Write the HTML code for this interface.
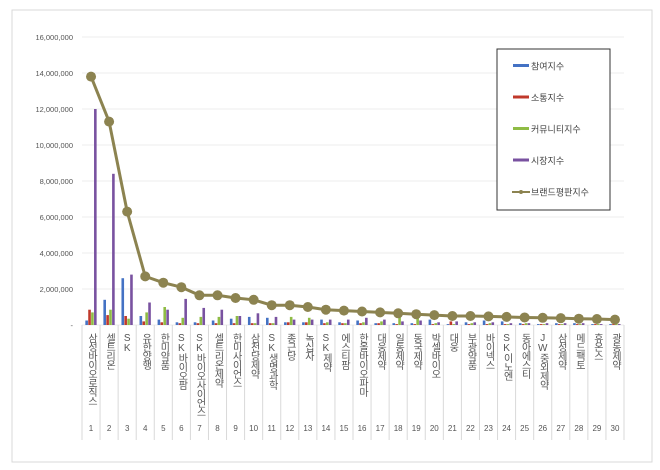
<!DOCTYPE html>
<html><head><meta charset="utf-8">
<style>
body{margin:0;background:#fff;font-family:"Liberation Sans","Noto Sans CJK KR",sans-serif;}
#wrap{position:relative;width:660px;height:470px;overflow:hidden;}
</style></head>
<body>
<div id="wrap">
<svg id="chart" width="660" height="470" xmlns="http://www.w3.org/2000/svg"></svg>
</div>
<script>
const categories=["삼성바이오로직스","셀트리온","SK","유한양행","한미약품","SK바이오팜","SK바이오사이언스","셀트리온제약","한미사이언스","삼천당제약","SK생명과학","종근당","녹십자","SK제약","에스티팜","한올바이오파마","대웅제약","일동제약","동국제약","박셀바이오","대웅","부광약품","바이넥스","SK이노엔","동아에스티","JW중외제약","삼성제약","메드팩토","휴온스","광동제약"];
const participation=[0.25,1.4,2.6,0.5,0.3,0.15,0.15,0.25,0.35,0.45,0.4,0.15,0.15,0.3,0.15,0.25,0.1,0.1,0.1,0.3,0.05,0.15,0.25,0.2,0.1,0.05,0.1,0.1,0.05,0.05].map(v=>v*1e6);
const communication=[0.85,0.55,0.5,0.2,0.15,0.1,0.1,0.1,0.1,0.1,0.1,0.15,0.15,0.1,0.1,0.1,0.1,0.05,0.05,0.05,0.2,0.05,0.05,0.05,0.05,0.05,0.05,0.05,0.05,0.05].map(v=>v*1e6);
const community=[0.7,0.85,0.35,0.7,1.0,0.4,0.45,0.45,0.5,0.1,0.1,0.45,0.4,0.15,0.1,0.15,0.2,0.45,0.45,0.1,0.05,0.1,0.1,0.05,0.1,0.05,0.05,0.05,0.05,0.05].map(v=>v*1e6);
const market=[12,8.4,2.8,1.25,0.85,1.45,0.95,0.85,0.5,0.65,0.45,0.3,0.3,0.3,0.3,0.4,0.3,0.2,0.25,0.15,0.2,0.15,0.15,0.1,0.1,0.1,0.1,0.1,0.05,0.05].map(v=>v*1e6);
const brandIndex=[13.8,11.3,6.3,2.7,2.35,2.1,1.65,1.65,1.5,1.4,1.1,1.1,1.0,0.85,0.8,0.75,0.7,0.65,0.6,0.55,0.5,0.5,0.48,0.45,0.42,0.4,0.38,0.35,0.33,0.3].map(v=>v*1e6);
const yTicks=[0,2e6,4e6,6e6,8e6,10e6,12e6,14e6,16e6];
const seriesNames=["참여지수","소통지수","커뮤니티지수","시장지수","브랜드평판지수"];

const svg=document.getElementById('chart');
const NS="http://www.w3.org/2000/svg";
function mk(tag,attrs,parent){const e=document.createElementNS(NS,tag);for(const k in attrs)e.setAttribute(k,attrs[k]);(parent||svg).appendChild(e);return e;}
const L=82,R=624,T=37,B=325;
const yS=v=>B-(v/16e6)*(B-T);
const cw=(R-L)/categories.length;
const xC=i=>L+cw*(i+0.5);

let fr=mk('rect',{x:12,y:10,width:640,height:452,fill:'none',stroke:'#d9d9d9'});



yTicks.forEach(t=>{
  const g=mk('line',{x1:L,x2:R,y1:yS(t),y2:yS(t),stroke:'#ececec'});
  
  
  const tx=mk('text',{x:73,y:yS(t)+3,'text-anchor':'end','font-size':'7.5',fill:'#555'});
  tx.textContent=t===0?'-':t.toLocaleString('en-US');
  
  
});

// category axis
for(let i=0;i<=categories.length;i++){
  const l=mk('line',{x1:L+cw*i,x2:L+cw*i,y1:B,y2:440,stroke:'#d9d9d9'});
  
  
}
categories.forEach((c,i)=>{
  const t=mk('text',{x:xC(i),y:333,'font-size':'10',fill:'#555','writing-mode':'tb','glyph-orientation-vertical':'0',style:'writing-mode:vertical-rl;text-orientation:upright;letter-spacing:-1px','text-anchor':'start'});
  t.textContent=c;
  
  
  const n=mk('text',{x:xC(i),y:431,'font-size':'8','text-anchor':'middle',fill:'#555'});
  n.textContent=String(i+1);
  
  
});

const series=[participation,communication,community,market];
const colors=['#4472c4','#c0392b','#8fbc45','#7952a0'];
const bw=2.6;
series.forEach((s,si)=>{
  s.forEach((v,i)=>{
    const x=xC(i)-2*bw-0.5+si*(bw+0.3);
    const r=mk('rect',{x:x,y:yS(v),width:bw,height:B-yS(v),fill:colors[si]});
    
    
  });
});

const pts=brandIndex.map((v,i)=>xC(i)+','+yS(v)).join(' ');
const pl=mk('polyline',{points:pts,fill:'none',stroke:'#8c8350','stroke-width':3});


brandIndex.forEach((v,i)=>{
  const c=mk('circle',{cx:xC(i),cy:yS(v),r:5,fill:'#8c8350'});
  
  
});

// legend
const lg=mk('rect',{x:497,y:49,width:113,height:161,fill:'#fff',stroke:'#333'});


seriesNames.forEach((n,i)=>{
  const y=66+i*31.5;
  if(i<4){
    const r=mk('rect',{x:513,y:y-2,width:16,height:3,fill:colors[i]});
    
    
  }else{
    const l=mk('line',{x1:512,x2:530,y1:y,y2:y,stroke:'#8c8350','stroke-width':2});
    
    
    const c=mk('circle',{cx:521,cy:y,r:2,fill:'#8c8350'});
    
    
  }
  const t=mk('text',{x:531,y:y+3.5,'font-size':'9',fill:'#444'});
  t.textContent=n;
  
  
});
</script>
</body></html>
